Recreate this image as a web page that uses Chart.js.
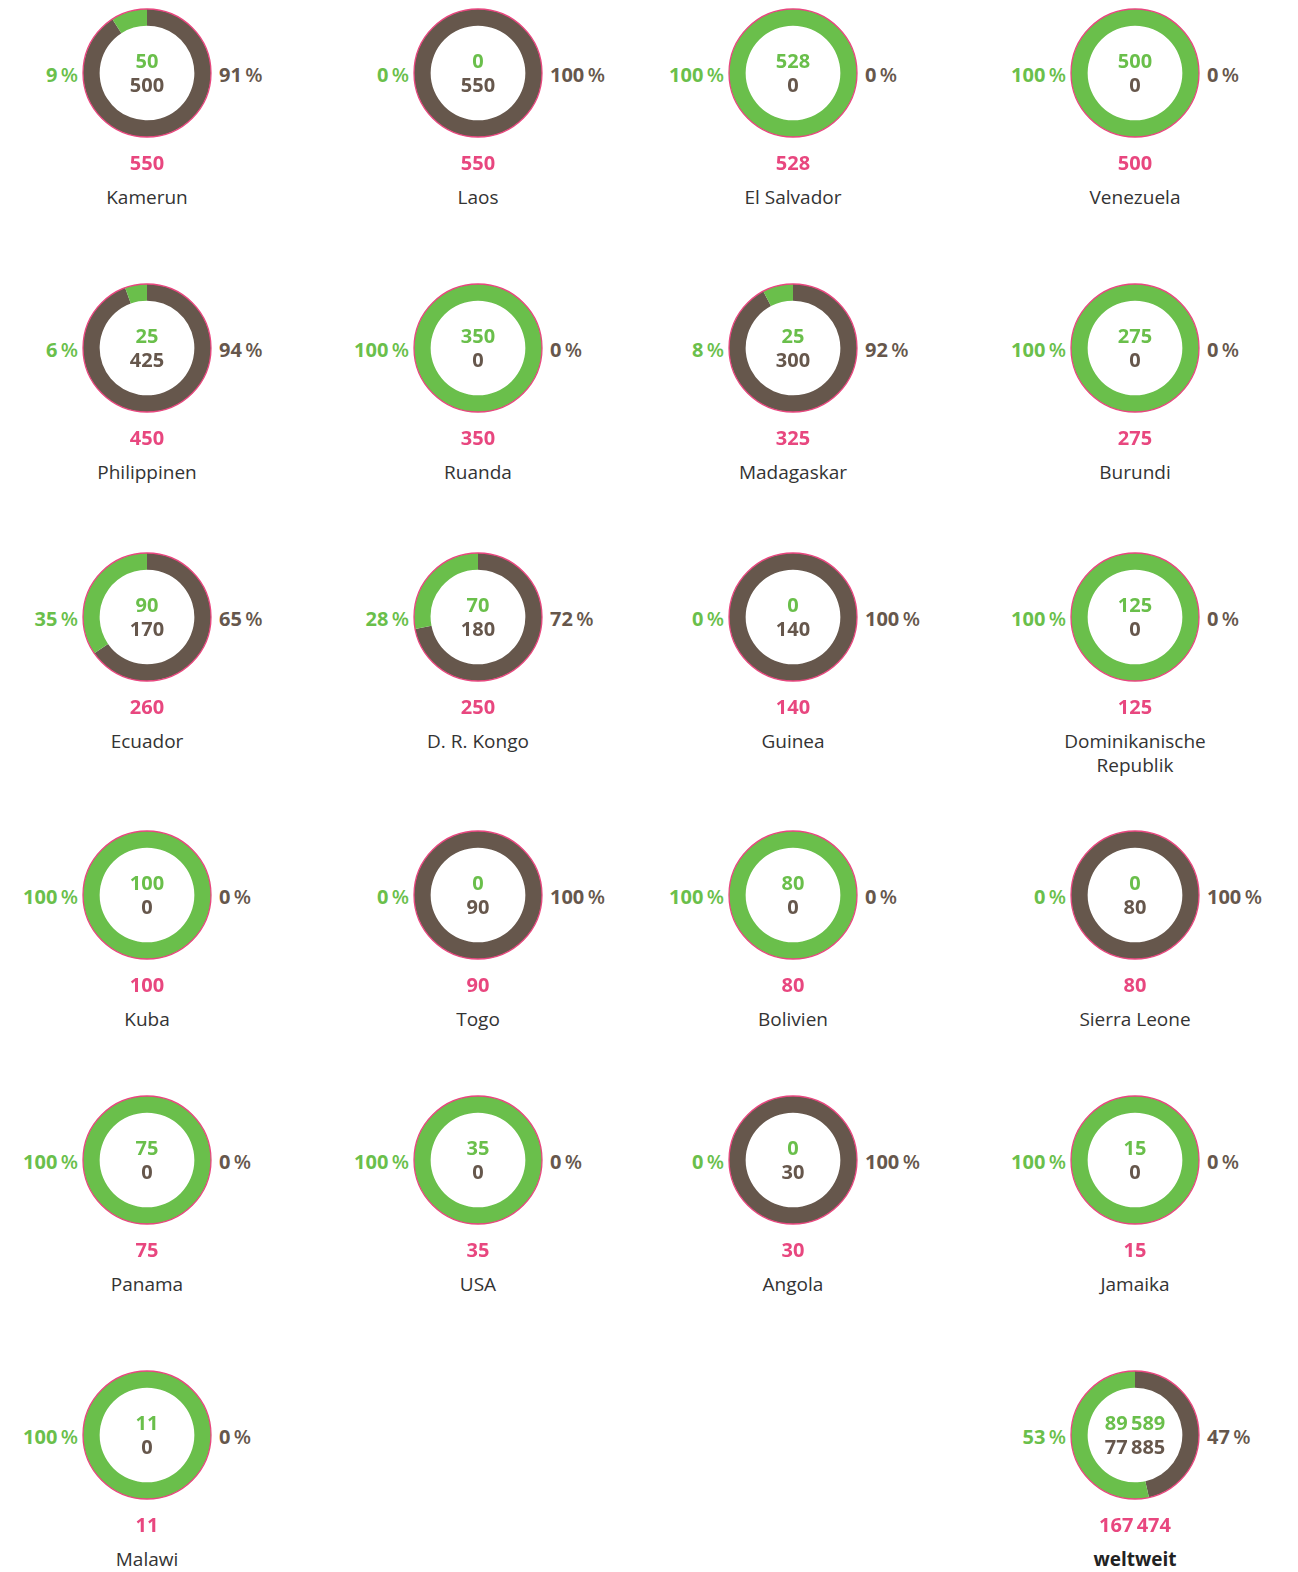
<!DOCTYPE html>
<html>
<head>
<meta charset="utf-8">
<script src="https://cdn.jsdelivr.net/npm/chart.js@4.4.0/dist/chart.umd.min.js"></script>
<style>
  body { margin: 0; background: #fff; font-family: "Open Sans", sans-serif; }
  #wrap { position: relative; width: 1298px; height: 1572px; overflow: hidden; }
  .tile { position: absolute; width: 0; height: 0; }
  .tile canvas { position: absolute; left: -66px; top: -66px; }
  .lbl { position: absolute; white-space: nowrap; font-weight: 700; font-size: 20px; line-height: 18px; }
  .pl { right: 69px; top: 2px; transform: translateY(-50%); color: #6abf4b; }
  .pr { left: 72px; top: 2px; transform: translateY(-50%); color: #66574c; }
  .pct { font-weight: 600; }
  .cg { left: 0; transform: translate(-50%, -50%); color: #6abf4b; }
  .cb { left: 0; transform: translate(-50%, -50%); color: #66574c; }
  .tot { left: 0; transform: translate(-50%, -50%); color: #e8477f; }
  .name { position: absolute; left: -90px; width: 180px; text-align: center; font-size: 19px; line-height: 24px; color: #333; font-weight: 400; }
</style>
</head>
<body>
<div id="wrap"></div>
<script>
// Daten
const countries = ["Kamerun", "Laos", "El Salvador", "Venezuela", "Philippinen", "Ruanda", "Madagaskar", "Burundi",
  "Ecuador", "D. R. Kongo", "Guinea", "Dominikanische Republik", "Kuba", "Togo", "Bolivien", "Sierra Leone",
  "Panama", "USA", "Angola", "Jamaika", "Malawi", "weltweit"];
const greenValues = [50, 0, 528, 500, 25, 350, 25, 275, 90, 70, 0, 125, 100, 0, 80, 0, 75, 35, 0, 15, 11, 89589];
const brownValues = [500, 550, 0, 0, 425, 0, 300, 0, 170, 180, 140, 0, 0, 90, 0, 80, 0, 0, 30, 0, 0, 77885];

// Layout
const colX = [147, 478, 793, 1135];
const rowY = [73, 348, 617, 895, 1160, 1435];
const GREEN = "#6abf4b", BROWN = "#66574c", PINK = "#e8477f";

const fmt = (n) => String(n).replace(/\B(?=(\d{3})+(?!\d))/g, "\u2009");

// duenner pinker Rand um den Ring
const ringOutline = {
  id: "ringOutline",
  afterDatasetsDraw(chart) {
    const arc = chart.getDatasetMeta(0).data[0];
    const { x, y, outerRadius } = arc.getProps(["x", "y", "outerRadius"], true);
    const ctx = chart.ctx;
    ctx.save();
    ctx.beginPath();
    ctx.arc(x, y, outerRadius, 0, Math.PI * 2);
    ctx.strokeStyle = PINK;
    ctx.lineWidth = 1.3;
    ctx.stroke();
    ctx.restore();
  },
};

const wrap = document.getElementById("wrap");

countries.forEach((name, i) => {
  const last = i === countries.length - 1;
  const col = last ? 3 : i % 4;
  const row = last ? 5 : Math.floor(i / 4);
  const g = greenValues[i], b = brownValues[i];
  const total = g + b;
  const pg = Math.round((g / total) * 100);
  const pb = Math.round((b / total) * 100);

  const tile = document.createElement("div");
  tile.className = "tile";
  tile.style.left = colX[col] + "px";
  tile.style.top = rowY[row] + "px";
  tile.innerHTML =
    '<canvas width="132" height="132"></canvas>' +
    '<div class="lbl pl">' + pg + '<span class="pct">\u2009%</span></div>' +
    '<div class="lbl pr">' + pb + '<span class="pct">\u2009%</span></div>' +
    '<div class="lbl cg" style="top:-12px">' + fmt(g) + "</div>" +
    '<div class="lbl cb" style="top:12px">' + fmt(b) + "</div>" +
    '<div class="lbl tot" style="top:90px">' + fmt(total) + "</div>" +
    '<div class="name" style="top:112px;' + (last ? "font-weight:700;color:#222" : "") + '">' + name + "</div>";
  wrap.appendChild(tile);

  new Chart(tile.querySelector("canvas").getContext("2d"), {
    type: "doughnut",
    data: {
      labels: ["andere", "gruen"],
      datasets: [
        {
          data: [b, g],
          backgroundColor: [BROWN, GREEN],
          borderWidth: 0,
        },
      ],
    },
    options: {
      responsive: false,
      animation: false,
      cutout: "74%",
      layout: { padding: 2 },
      plugins: {
        legend: { display: false },
        tooltip: { enabled: false },
      },
    },
    plugins: [ringOutline],
  });
});
</script>
</body>
</html>
